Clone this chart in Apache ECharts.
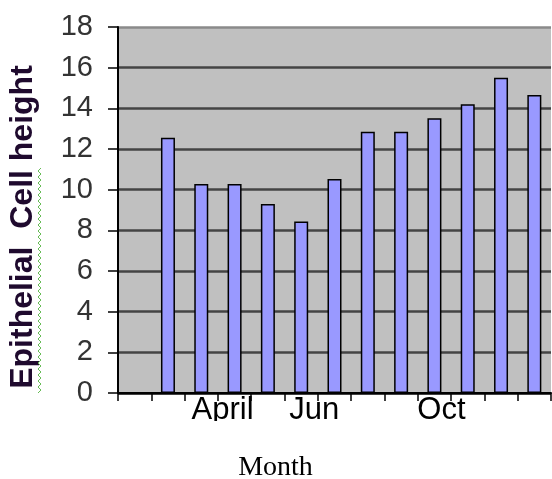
<!DOCTYPE html>
<html>
<head>
<meta charset="utf-8">
<script src="https://cdn.jsdelivr.net/npm/echarts@6/dist/echarts.min.js"></script>
<style>html,body{margin:0;padding:0;background:#fff}#c{width:552px;height:479px}</style>
</head>
<body>
<div id="c"></div>
<script>
var categories = ["Jan","Feb","Mar","April","May","Jun","Jul","Aug","Sep","Oct","Nov","Dec","Jan"];
var shownLabels = [3, 5, 9];
var cellHeight = [null, 12.55, 10.28, 10.28, 9.3, 8.43, 10.53, 12.85, 12.85, 13.51, 14.2, 15.51, 14.66];
var labelShift = {3: -12, 5: 13, 9: 7};

var chart = echarts.init(document.getElementById('c'));
var xData = categories.map(function (c, i) {
  var s = labelShift[i] || 0;
  return {value: c, textStyle: {padding: s < 0 ? [0, -2 * s, 0, 0] : [0, 0, 0, 2 * s]}};
});
// decorative spell-check squiggle beside the y-axis title
var squiggle = [];
for (var k = 0; k <= 75; k++) { squiggle.push([k % 2 ? 41 : 38, 393 - k * 3]); }

chart.setOption({
  animation: false,
  grid: {left: 118, right: 1, top: 27, bottom: 86, show: true, backgroundColor: '#c0c0c0', borderWidth: 0, containLabel: false, outerBoundsMode: 'none'},
  xAxis: {
    type: 'category',
    data: xData,
    boundaryGap: true,
    name: 'Month',
    nameLocation: 'middle',
    nameGap: 61,
    nameTextStyle: {fontFamily: 'Liberation Serif', fontSize: 28, color: '#000', padding: [0, 118, 0, 0]},
    axisLine: {lineStyle: {color: '#000', width: 2}},
    axisTick: {show: true, length: 8, lineStyle: {color: '#000', width: 1.5}},
    axisLabel: {
      interval: 0,
      margin: 2,
      fontFamily: 'Liberation Sans',
      fontSize: 31,
      color: '#000',
      formatter: function (v, i) { return shownLabels.indexOf(i) >= 0 ? v : ''; }
    },
    splitLine: {show: false}
  },
  yAxis: {
    type: 'value',
    min: 0, max: 18, interval: 2,
    name: 'Epithelial  Cell height',
    nameLocation: 'middle',
    nameRotate: 90,
    nameGap: 79,
    nameTextStyle: {fontFamily: 'Liberation Sans', fontWeight: 'bold', fontSize: 32, color: '#1f0a2e', padding: [0, 34, 0, 0]},
    axisLine: {show: true, lineStyle: {color: '#000', width: 2}},
    axisTick: {show: true, length: 10, lineStyle: {color: '#000', width: 1.5}},
    axisLabel: {margin: 25, fontFamily: 'Liberation Sans', fontSize: 29, color: '#333'},
    splitLine: {show: true, lineStyle: {color: ['#000','#444','#444','#444','#444','#444','#444','#444','#444','#8a8a8a'], width: 2.5}}
  },
  series: [{
    type: 'bar',
    data: cellHeight,
    barWidth: 14,
    itemStyle: {color: '#9999ff', borderColor: '#000', borderWidth: 1.5}
  }],
  graphic: [{
    type: 'rect', left: 100, top: 421, shape: {width: 452, height: 14}, style: {fill: '#fff'}, z: 100, silent: true
  }, {
    type: 'polyline', shape: {points: squiggle}, style: {stroke: '#66bb55', lineWidth: 1, fill: null}, z: 100, silent: true
  }]
});
</script>
</body>
</html>
